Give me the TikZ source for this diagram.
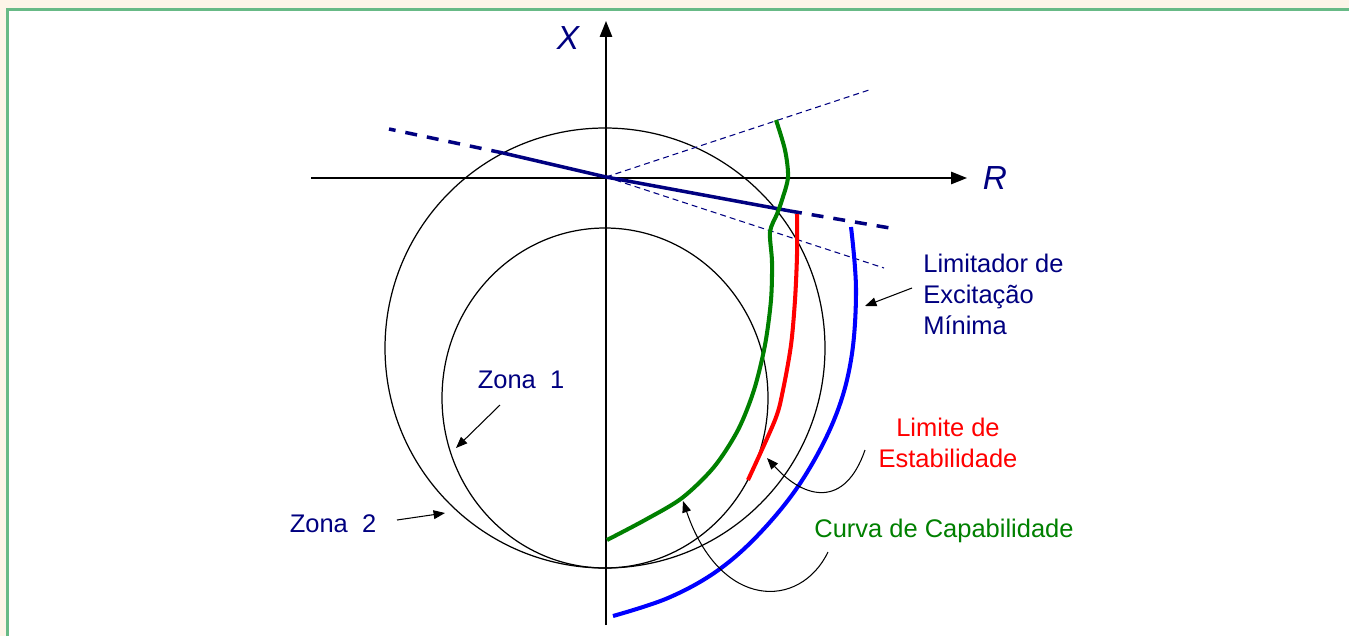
\documentclass[tikz,border=0pt]{standalone}
\usepackage{fontspec}
\setmainfont{Liberation Sans}
\usetikzlibrary{calc, arrows.meta, positioning}
\definecolor{cream}{RGB}{253,245,232}
\definecolor{framegreen}{RGB}{104,186,134}
\definecolor{navyblue}{RGB}{0,0,128}
\definecolor{capgreen}{RGB}{0,128,0}
\tikzset{
  axis/.style={line width=0.85pt, -{Triangle[length=9pt,width=7pt]}},
  zone/.style={line width=0.7pt},
  limiter/.style={navyblue, line width=2pt},
  limiterdash/.style={limiter, dash pattern=on 6.8pt off 5.7pt},
  guide/.style={navyblue, line width=0.6pt, dash pattern=on 3.4pt off 2.3pt},
  curve/.style={line width=2.3pt},
  pointer/.style={line width=0.6pt, -{Triangle[length=6.5pt,width=5pt]}},
  lbl/.style={font=\fontsize{14.5}{17.6}\selectfont, inner sep=0pt},
  axlbl/.style={navyblue, font=\fontsize{19}{19}\selectfont\itshape, inner sep=0pt}
}

\begin{document}
\begin{tikzpicture}[x=0.02cm, y=-0.02cm]
			\useasboundingbox (0,0) rectangle (1349,636);
			\fill[cream] (0,0) rectangle (1349,636);
			\fill[white] (7,9) rectangle (1349,636);
			\draw[framegreen, line width=1.7pt] (7.3,636) -- (7.3,9.5) -- (1349,9.5);
			% axes
			\coordinate (O) at (606,177);
			\coordinate (xbot) at (606,625);
			\coordinate (xtop) at (606,21);
			\coordinate (rleft) at (311,178);
			\coordinate (rright) at (967,178);
			\draw[axis] (xbot) -- (xtop);
			\draw[axis] (rleft) -- (rright);
			\node[axlbl] (xlbl) at (568,38) {X};
			\node[axlbl] (rlbl) at (995,178) {R};
			% zones
			\draw[zone] (605,348) circle (220);
			\draw[zone] (605,398) ellipse [x radius=163, y radius=170];
			% limiter line and guides
			\coordinate (limL) at (389,129);
			\coordinate (limLs) at (503,153);
			\coordinate (limRs) at (790,211);
			\coordinate (limR) at (890,228);
			\coordinate (guideU) at (872,89);
			\coordinate (guideD) at (884,268);
			\draw[guide] (O) -- (guideU);
			\draw[guide] (O) -- (guideD);
			\draw[limiter] (limLs) -- (O) -- (limRs);
			\draw[limiterdash] (limLs) -- (limL);
			\draw[limiterdash] (limRs) -- (limR);
			% curves
			\draw[curve, capgreen] plot[smooth, tension=0.5] coordinates {(776,120) (785,150) (788,177) (782,200) (777,214) (770,232) (772,262) (771,300) (765,345) (754,390) (738,430) (714,467) (682,498) (645,520) (607,540)};
			\draw[curve, red] plot[smooth, tension=0.5] coordinates {(797,214) (797,255) (795,300) (791,345) (783,390) (775,420) (748,480)};
			\draw[curve, blue] plot[smooth, tension=0.6] coordinates {(851,227) (856,290) (851,360) (834,420) (801,482) (760,533) (717,571) (668,598) (613,616)};
			% labels
			\node[lbl, navyblue] (zona1) at (521,380) {Zona\ \ 1};
			\node[lbl, navyblue] (zona2) at (333,524) {Zona\ \ 2};
			\node[lbl, navyblue, align=left, anchor=west] (limitador) at (923,294) {Limitador de\\Excitação\\Mínima};
			\node[lbl, red, align=center] (estab) at (948,443) {Limite de\\Estabilidade};
			\node[lbl, capgreen] (capab) at (944,531) {Curva de Capabilidade};
			% pointers
			\coordinate (z1tail) at (500,405);
			\coordinate (z1tip) at (456,448);
			\coordinate (z2tail) at (397,520);
			\coordinate (z2tip) at (445,513);
			\coordinate (limtail) at (912,288);
			\coordinate (limtip) at (865,306);
			\coordinate (esttail) at (865,450);
			\coordinate (esttip) at (767,458);
			\coordinate (captail) at (828,552);
			\coordinate (captip) at (683,501);
			\draw[pointer] (z1tail) -- (z1tip);
			\draw[pointer] (z2tail) -- (z2tip);
			\draw[pointer] (limtail) -- (limtip);
			\draw[pointer] (esttail) .. controls (845,508) and (805,500) .. (esttip);
			\draw[pointer] (captail) .. controls (800,610) and (720,610) .. (captip);
		\end{tikzpicture}
\end{document}
